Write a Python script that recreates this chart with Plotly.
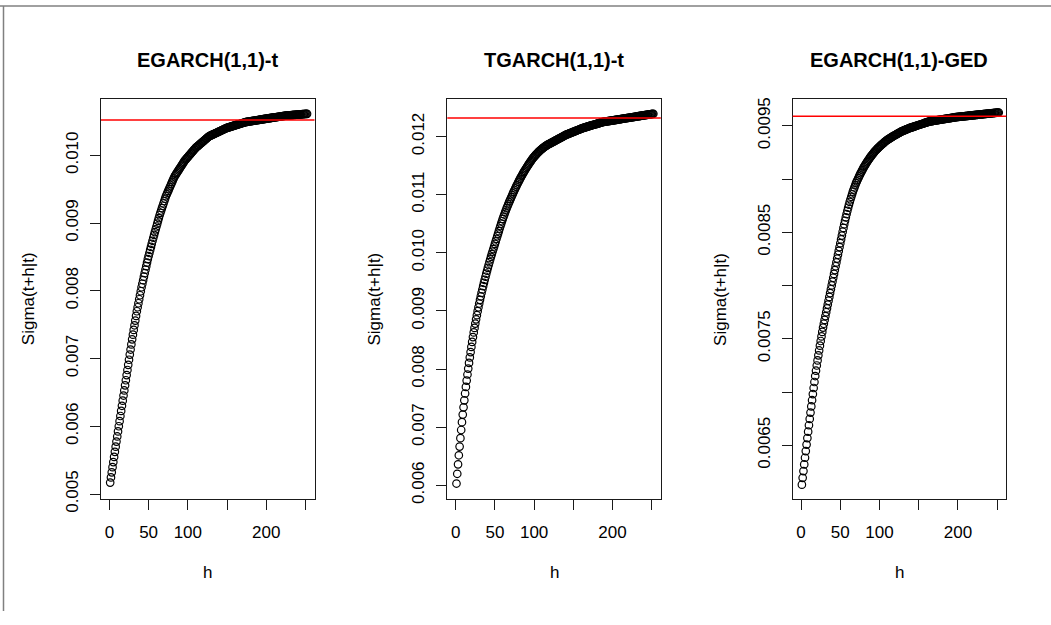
import plotly.graph_objects as go

# ---------------- data ----------------
titles = ["EGARCH(1,1)-t", "TGARCH(1,1)-t", "EGARCH(1,1)-GED"]
h = list(range(1, 253))

egarch_t = [
    0.005170, 0.005246, 0.005321, 0.005397, 0.005472, 0.005548, 0.005623, 0.005699, 0.005774, 0.005850,
    0.005925, 0.006001, 0.006076, 0.006152, 0.006227, 0.006303, 0.006378, 0.006454, 0.006529, 0.006605,
    0.006680, 0.006756, 0.006831, 0.006907, 0.006982, 0.007058, 0.007133, 0.007209, 0.007284,
    0.007353, 0.007422, 0.007491, 0.007560, 0.007629, 0.007698,
    0.007757, 0.007816, 0.007875, 0.007934, 0.007993, 0.008052,
    0.008104, 0.008156, 0.008208, 0.008260, 0.008312, 0.008364, 0.008416, 0.008468,
    0.008513, 0.008558, 0.008603, 0.008648, 0.008693, 0.008738, 0.008783,
    0.0088245, 0.008866, 0.0089075, 0.008949, 0.0089905, 0.009032, 0.0090735, 0.009115,
    0.00915, 0.009185, 0.00922, 0.009255, 0.00929, 0.009325, 0.00936, 0.009395,
    0.0094215, 0.009448, 0.0094745, 0.009501, 0.0095275, 0.009554, 0.0095805, 0.009607, 0.0096335, 0.00966, 0.0096865,
    0.0097045, 0.0097225, 0.0097405, 0.0097585, 0.0097765, 0.0097945, 0.0098125, 0.0098305, 0.0098485, 0.0098665,
    0.0098845, 0.0099025, 0.0099205,
    0.009934, 0.0099475, 0.009961, 0.0099745, 0.009988, 0.0100015, 0.010015, 0.0100285, 0.010042, 0.0100555,
    0.010069, 0.0100825, 0.010096, 0.0101095,
    0.0101195, 0.0101295, 0.0101395, 0.0101495, 0.0101595, 0.0101695, 0.0101795, 0.0101895, 0.0101995, 0.0102095,
    0.0102195, 0.0102295, 0.0102395, 0.0102495, 0.0102595, 0.0102695, 0.0102795,
    0.010285, 0.0102905, 0.010296, 0.0103015, 0.010307, 0.0103125, 0.010318, 0.0103235, 0.010329, 0.0103345,
    0.01034, 0.0103455, 0.010351, 0.0103565, 0.010362, 0.0103675, 0.010373, 0.0103785, 0.010384, 0.0103895,
    0.010395, 0.0104005,
    0.0104041, 0.0104077, 0.0104113, 0.0104149, 0.0104185, 0.0104221, 0.0104257, 0.0104293, 0.0104329, 0.0104365,
    0.0104401, 0.0104437, 0.0104473, 0.0104509, 0.0104545, 0.0104581, 0.0104617, 0.0104653, 0.0104689, 0.0104725,
    0.0104761, 0.0104797, 0.0104833, 0.0104869, 0.0104905,
    0.0104924, 0.0104943, 0.0104962, 0.0104981, 0.0105, 0.0105019, 0.0105038, 0.0105057, 0.0105076, 0.0105095,
    0.0105114, 0.0105133, 0.0105152, 0.0105171, 0.010519, 0.0105209, 0.0105228, 0.0105247, 0.0105266, 0.0105285,
    0.0105304, 0.0105323, 0.0105342, 0.0105361, 0.010538, 0.0105399,
    0.0105417, 0.0105435, 0.0105453, 0.0105471, 0.0105489, 0.0105507, 0.0105525, 0.0105543, 0.0105561, 0.0105579,
    0.0105597, 0.0105615, 0.0105633, 0.0105651, 0.0105669, 0.0105687, 0.0105705, 0.0105723, 0.0105741, 0.0105759,
    0.0105777, 0.0105795, 0.0105813, 0.0105831, 0.0105849,
    0.0105859, 0.0105869, 0.0105879, 0.0105889, 0.0105899, 0.0105909, 0.0105919, 0.0105929, 0.0105939, 0.0105949,
    0.0105959, 0.0105969, 0.0105979, 0.0105989, 0.0105999, 0.0106009, 0.0106019, 0.0106029, 0.0106039, 0.0106049,
    0.0106059, 0.0106069, 0.0106079, 0.0106089, 0.0106099, 0.0106109, 0.0106119,
]

tgarch_t = [
    0.00603, 0.006198, 0.00636, 0.006516, 0.006666, 0.006811, 0.006951, 0.007086, 0.007216, 0.007341,
    0.007462, 0.007579, 0.007692, 0.007801, 0.007906, 0.008007, 0.008105, 0.0082, 0.008292, 0.008381,
    0.008467, 0.00855, 0.00863, 0.008707, 0.008782,
    0.008855, 0.008926, 0.008995, 0.009062, 0.009127,
    0.00919, 0.009251, 0.009311, 0.009369, 0.009426, 0.009481, 0.009535,
    0.009588, 0.00964, 0.009691, 0.009741, 0.00979, 0.009838, 0.009885, 0.009931, 0.009976,
    0.01002, 0.010064, 0.010108, 0.010152, 0.010196, 0.01024, 0.010284, 0.010328, 0.010372, 0.010416,
    0.010459, 0.010501, 0.010542, 0.010582, 0.010621, 0.010659,
    0.010696, 0.010732, 0.010767, 0.010801, 0.010834, 0.010866, 0.010897, 0.010927,
    0.010959, 0.01099, 0.011021, 0.011051, 0.01108, 0.011109, 0.011137, 0.011165, 0.011192, 0.011219,
    0.011245, 0.011271, 0.011296, 0.011321, 0.011345, 0.011369,
    0.011392, 0.0114146, 0.0114368, 0.0114586, 0.01148, 0.011501, 0.0115216, 0.0115418, 0.0115616, 0.011581,
    0.0116, 0.0116186, 0.0116368,
    0.0116528, 0.0116684, 0.0116835, 0.0116981, 0.0117123, 0.0117261, 0.0117394, 0.0117522, 0.0117646, 0.0117766,
    0.0117881, 0.0117991, 0.0118097, 0.0118199, 0.0118296, 0.0118388, 0.0118476, 0.011856, 0.0118639, 0.0118713,
    0.0118783,
    0.0118856, 0.0118929, 0.0119002, 0.0119075, 0.0119148, 0.0119221, 0.0119294, 0.0119367, 0.011944, 0.0119513,
    0.0119586, 0.0119659, 0.0119732, 0.0119805, 0.0119878, 0.0119951, 0.0120024, 0.0120097, 0.012017, 0.0120243,
    0.0120316,
    0.012037, 0.0120424, 0.0120478, 0.0120532, 0.0120586, 0.012064, 0.0120694, 0.0120748, 0.0120802, 0.0120856,
    0.012091, 0.0120964, 0.0121018, 0.0121072, 0.0121126, 0.012118, 0.0121234, 0.0121288, 0.0121342, 0.0121396,
    0.012145, 0.0121504,
    0.0121544, 0.0121584, 0.0121624, 0.0121664, 0.0121704, 0.0121744, 0.0121784, 0.0121824, 0.0121864, 0.0121904,
    0.0121944, 0.0121984, 0.0122024, 0.0122064, 0.0122104, 0.0122144, 0.0122184, 0.0122224, 0.0122264, 0.0122304,
    0.0122344, 0.0122384, 0.0122424, 0.0122464, 0.0122504,
    0.0122526, 0.0122548, 0.012257, 0.0122592, 0.0122614, 0.0122636, 0.0122658, 0.012268, 0.0122702, 0.0122724,
    0.0122746, 0.0122768, 0.012279, 0.0122812, 0.0122834, 0.0122856, 0.0122878, 0.01229, 0.0122922, 0.0122944,
    0.0122966, 0.0122988, 0.012301, 0.0123032, 0.0123054, 0.0123076, 0.0123098, 0.012312, 0.0123142, 0.0123164,
    0.0123186, 0.0123208,
    0.012323, 0.0123252, 0.0123274, 0.0123296, 0.0123318, 0.012334, 0.0123362, 0.0123384, 0.0123406, 0.0123428,
    0.012345, 0.0123472, 0.0123494, 0.0123516, 0.0123538, 0.012356, 0.0123582, 0.0123604, 0.0123626, 0.0123648,
    0.012367, 0.0123692, 0.0123714, 0.0123736, 0.0123758, 0.012378, 0.0123802, 0.0123824, 0.0123846, 0.0123868,
    0.012389, 0.0123912,
]

egarch_ged = [
    0.00613, 0.006194, 0.0062575, 0.0063205, 0.006383, 0.006445, 0.0065065, 0.0065675, 0.006628, 0.006688,
    0.0067475, 0.0068065, 0.006865, 0.006923, 0.0069805, 0.0070375, 0.007094, 0.00715,
    0.0072, 0.007249, 0.007297, 0.007344, 0.00739, 0.007435, 0.007479, 0.007522, 0.007564, 0.007605,
    0.007641, 0.007677, 0.007713, 0.007749, 0.007785, 0.007821, 0.007857, 0.007893, 0.007929, 0.007965,
    0.008001, 0.008037, 0.008073, 0.008109, 0.008145, 0.008181, 0.008217, 0.008253, 0.008289, 0.008325,
    0.008361, 0.008397, 0.008433, 0.008469, 0.008505, 0.008541,
    0.008575, 0.008608, 0.00864, 0.008671, 0.008701, 0.00873, 0.008758, 0.008785,
    0.008809, 0.008833, 0.008857, 0.008881, 0.008901, 0.008921, 0.008941, 0.008961, 0.008977, 0.008993,
    0.009009, 0.009025, 0.009041,
    0.009055, 0.009069, 0.009083, 0.009097, 0.009111, 0.009123, 0.009135, 0.009147, 0.009159, 0.00917,
    0.009181, 0.009192, 0.009203,
    0.0092125, 0.009222, 0.0092315, 0.009241, 0.0092505, 0.00926, 0.0092675, 0.009275, 0.0092825, 0.00929,
    0.0092975, 0.009305,
    0.0093115, 0.009318, 0.0093245, 0.009331, 0.0093375, 0.009344, 0.0093505, 0.009357, 0.0093618, 0.0093666,
    0.0093714, 0.0093762, 0.009381, 0.0093858, 0.0093906, 0.0093954, 0.0094002,
    0.0094044, 0.0094086, 0.0094128, 0.009417, 0.0094212, 0.0094254, 0.0094296, 0.0094338, 0.009438, 0.0094422,
    0.0094464, 0.0094495, 0.0094526, 0.0094557, 0.0094588, 0.0094619, 0.009465, 0.0094681, 0.0094712, 0.0094743,
    0.0094774, 0.0094805,
    0.0094829, 0.0094853, 0.0094877, 0.0094901, 0.0094925, 0.0094949, 0.0094973, 0.0094997, 0.0095021, 0.0095045,
    0.0095069, 0.0095093, 0.0095117, 0.0095141, 0.0095165, 0.0095189, 0.0095213, 0.0095237, 0.0095261, 0.0095285,
    0.0095309, 0.0095333, 0.0095357, 0.0095381, 0.0095405,
    0.0095417, 0.0095429, 0.0095441, 0.0095453, 0.0095465, 0.0095477, 0.0095489, 0.0095501, 0.0095513, 0.0095525,
    0.0095537, 0.0095549, 0.0095561, 0.0095573, 0.0095585, 0.0095597, 0.0095609, 0.0095621, 0.0095633, 0.0095645,
    0.0095657, 0.0095669, 0.0095681, 0.0095693, 0.0095705, 0.0095717, 0.0095729, 0.0095741, 0.0095753, 0.0095765,
    0.0095777, 0.0095789, 0.0095801, 0.0095813,
    0.0095821, 0.0095829, 0.0095837, 0.0095845, 0.0095853, 0.0095861, 0.0095869, 0.0095877, 0.0095885, 0.0095893,
    0.0095901, 0.0095909, 0.0095917, 0.0095925, 0.0095933, 0.0095941, 0.0095949, 0.0095957, 0.0095965, 0.0095973,
    0.0095981, 0.0095989, 0.0095997, 0.0096005, 0.0096013, 0.0096021, 0.0096029, 0.0096037, 0.0096045, 0.0096053,
    0.0096061, 0.0096069, 0.0096077, 0.0096085, 0.0096093, 0.0096101, 0.0096109, 0.0096117, 0.0096125, 0.0096133,
    0.0096141, 0.0096149, 0.0096157, 0.0096165, 0.0096173, 0.0096181, 0.0096189, 0.0096197, 0.0096205, 0.0096213,
    0.0096221, 0.0096229, 0.0096237, 0.0096245,
]

# unconditional (long-run) sigma, drawn as red horizontal lines
long_run = [0.01052, 0.01232, 0.00959]

x_tickvals = [0, 50, 100, 150, 200, 250]
x_ticktext = ["0", "50", "100", "", "200", ""]

y_tickvals_1 = [0.005, 0.006, 0.007, 0.008, 0.009, 0.010]
y_ticktext_1 = ["0.005", "0.006", "0.007", "0.008", "0.009", "0.010"]
y_tickvals_2 = [0.006, 0.007, 0.008, 0.009, 0.010, 0.011, 0.012]
y_ticktext_2 = ["0.006", "0.007", "0.008", "0.009", "0.010", "0.011", "0.012"]
y_tickvals_3 = [0.0065, 0.0070, 0.0075, 0.0080, 0.0085, 0.0090, 0.0095]
y_ticktext_3 = ["0.0065", "", "0.0075", "", "0.0085", "", "0.0095"]

y_ranges = [[0.004928, 0.010824], [0.005765, 0.012638], [0.005996, 0.009747]]
x_range = [-10.7, 261.5]

for s in (egarch_t, tgarch_t, egarch_ged):
    if len(s) != len(h):
        raise ValueError("series length %d != %d" % (len(s), len(h)))

# ---------------- layout geometry (pixels of a 1051x625 page) ----------------
W, H = 1051, 625
box_left = [101, 447.3, 792.7]
box_width = 213.5
box_top, box_bottom = 100, 510

def px_x(x):
    return x / W

def px_y(y):
    return 1 - y / H

FONT = "Liberation Sans, Arial, sans-serif"
series = [egarch_t, tgarch_t, egarch_ged]
yticks = [(y_tickvals_1, y_ticktext_1), (y_tickvals_2, y_ticktext_2), (y_tickvals_3, y_ticktext_3)]

fig = go.Figure()
layout = dict(
    width=W, height=H, autosize=False,
    margin=dict(l=0, r=0, t=0, b=0, pad=0),
    paper_bgcolor="white", plot_bgcolor="white",
    showlegend=False,
    font=dict(family=FONT, size=17, color="#000000"),
)
annotations = []
shapes = []

for i in range(3):
    sfx = "" if i == 0 else str(i + 1)
    xa, ya = "x" + sfx, "y" + sfx
    fig.add_trace(go.Scatter(
        x=h, y=series[i], xaxis=xa, yaxis=ya, mode="markers",
        marker=dict(symbol="circle-open", size=7.5, color="#000000", line=dict(width=1.2, color="#000000")),
        hoverinfo="skip",
    ))
    axis_common = dict(
        showgrid=False, zeroline=False, showline=True, mirror=True,
        linecolor="#1a1a1a", linewidth=1.2,
        ticks="outside", ticklen=10, tickwidth=1, tickcolor="#1a1a1a",
        tickfont=dict(family=FONT, size=17, color="#000000"),
    )
    layout["xaxis" + sfx] = dict(
        axis_common,
        domain=[px_x(box_left[i]), px_x(box_left[i] + box_width)],
        range=x_range, tickmode="array", tickvals=x_tickvals, ticktext=x_ticktext,
        anchor=ya, ticklabelstandoff=8,
    )
    layout["yaxis" + sfx] = dict(
        axis_common,
        domain=[px_y(box_bottom), px_y(box_top)],
        range=y_ranges[i], tickmode="array", tickvals=yticks[i][0], ticktext=yticks[i][1],
        tickangle=-90, anchor=xa, ticklabelstandoff=5,
    )
    # red long-run line across the whole plot box
    shapes.append(dict(type="line", xref=xa + " domain", yref=ya, x0=0, x1=1,
                       y0=long_run[i], y1=long_run[i], line=dict(color="#ff0000", width=1.5)))
    cx = box_left[i] + box_width / 2
    annotations.append(dict(text="<b>" + titles[i] + "</b>", x=px_x(cx), y=px_y(60), xref="paper", yref="paper",
                            showarrow=False, font=dict(family=FONT, size=20, color="#000000"),
                            xanchor="center", yanchor="middle"))
    annotations.append(dict(text="h", x=px_x(cx), y=px_y(585), xref="paper", yref="paper",
                            showarrow=False, font=dict(family=FONT, size=17, color="#000000"),
                            xanchor="center", yanchor="middle"))
    annotations.append(dict(text="Sigma(t+h|t)", x=px_x(box_left[i] - 73), y=px_y(305), xref="paper", yref="paper",
                            showarrow=False, textangle=-90, font=dict(family=FONT, size=17, color="#000000"),
                            xanchor="center", yanchor="middle"))

# window border (top and left edges visible in the reference)
shapes.append(dict(type="line", xref="paper", yref="paper", x0=0, x1=1, y0=px_y(4), y1=px_y(4),
                   line=dict(color="#808080", width=1.5)))
shapes.append(dict(type="line", xref="paper", yref="paper", x0=px_x(3.5), x1=px_x(3.5), y0=0, y1=px_y(4),
                   line=dict(color="#808080", width=1.5)))

layout["annotations"] = annotations
layout["shapes"] = shapes
fig.update_layout(**layout)

# remove the page's default body margin so the figure sits at the window's top-left corner
page_fix = """
document.documentElement.style.margin = '0';
document.documentElement.style.padding = '0';
document.documentElement.style.overflow = 'hidden';
document.body.style.margin = '0';
document.body.style.padding = '0';
document.body.style.overflow = 'hidden';
"""
fig.write_html("out.html", config={"responsive": False}, post_script=page_fix)
